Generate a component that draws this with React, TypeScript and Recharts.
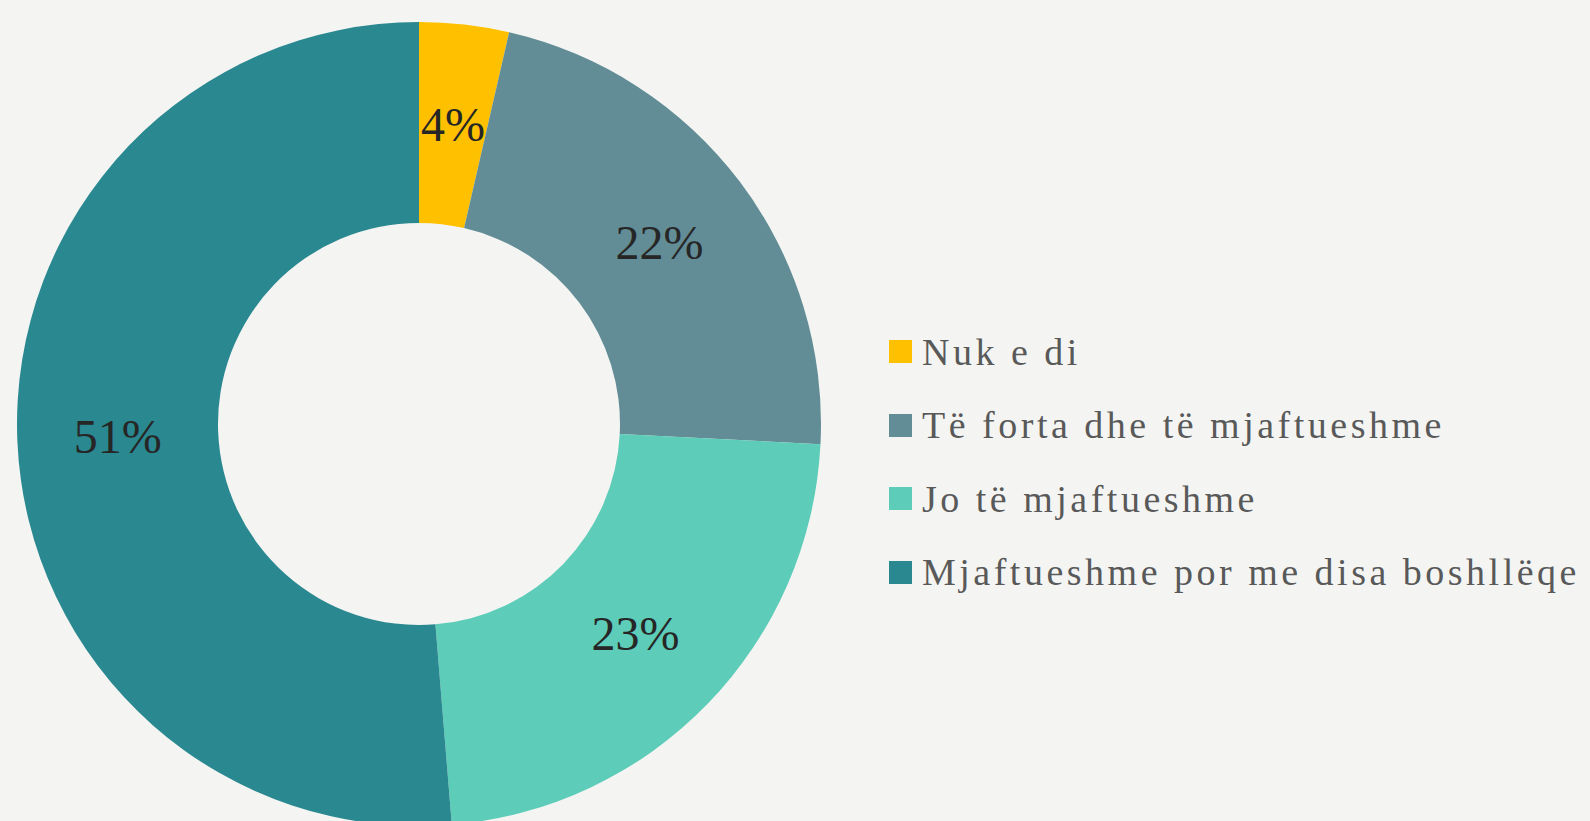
import { PieChart, Pie, Cell, Legend } from "recharts";

const categories = [
  "Nuk e di",
  "Të forta dhe të mjaftueshme",
  "Jo të mjaftueshme",
  "Mjaftueshme por me disa boshllëqe",
];
const shares = [3.6, 22.2, 22.9, 51.3];
const shareLabels = ["4%", "22%", "23%", "51%"];
const colors = ["#FFC000", "#638D96", "#5DCCB8", "#2A8890"];

const data = categories.map((name, i) => ({
  name,
  value: shares[i],
  label: shareLabels[i],
}));

const SERIF = "'Liberation Serif', 'Times New Roman', Times, 'DejaVu Serif', serif";
const RAD = Math.PI / 180;

function renderLabel(props: any) {
  const { cx, cy, midAngle, innerRadius, outerRadius, index } = props;
  const r = (innerRadius + outerRadius) / 2;
  const x = cx + r * Math.cos(-midAngle * RAD);
  const y = cy + r * Math.sin(-midAngle * RAD);
  return (
    <text
      x={x}
      y={y}
      textAnchor="middle"
      dominantBaseline="central"
      fill="#262626"
      style={{ fontFamily: SERIF, fontSize: 48 }}
    >
      {shareLabels[index]}
    </text>
  );
}

function LegendList() {
  return (
    <div style={{ fontFamily: SERIF }}>
      {categories.map((c, i) => (
        <div
          key={c}
          style={{ display: "flex", alignItems: "center", height: 73.5 }}
        >
          <span
            style={{
              width: 23,
              height: 23,
              background: colors[i],
              marginRight: 10,
              flex: "none",
            }}
          />
          <span
            style={{
              fontSize: 38,
              letterSpacing: 3.5,
              color: "#595959",
              whiteSpace: "nowrap",
            }}
          >
            {c}
          </span>
        </div>
      ))}
    </div>
  );
}

export default function App() {
  return (
    <div style={{ width: 1590, height: 821, background: "#f4f5f3", fontFamily: SERIF }}>
      <style>{"body{margin:0}"}</style>
      <PieChart width={1590} height={821} margin={{ top: 0, right: 0, bottom: 0, left: 0 }}>
        <Pie
          data={data}
          dataKey="value"
          nameKey="name"
          cx={419}
          cy={424}
          innerRadius={201}
          outerRadius={402}
          startAngle={90}
          endAngle={-270}
          stroke="none"
          label={renderLabel}
          labelLine={false}
          isAnimationActive={false}
        >
          {data.map((d, i) => (
            <Cell key={d.name} fill={colors[i]} />
          ))}
        </Pie>
        <Legend
          content={() => <LegendList />}
          wrapperStyle={{ position: "absolute", left: 889, top: 315, width: "auto" }}
        />
      </PieChart>
    </div>
  );
}
